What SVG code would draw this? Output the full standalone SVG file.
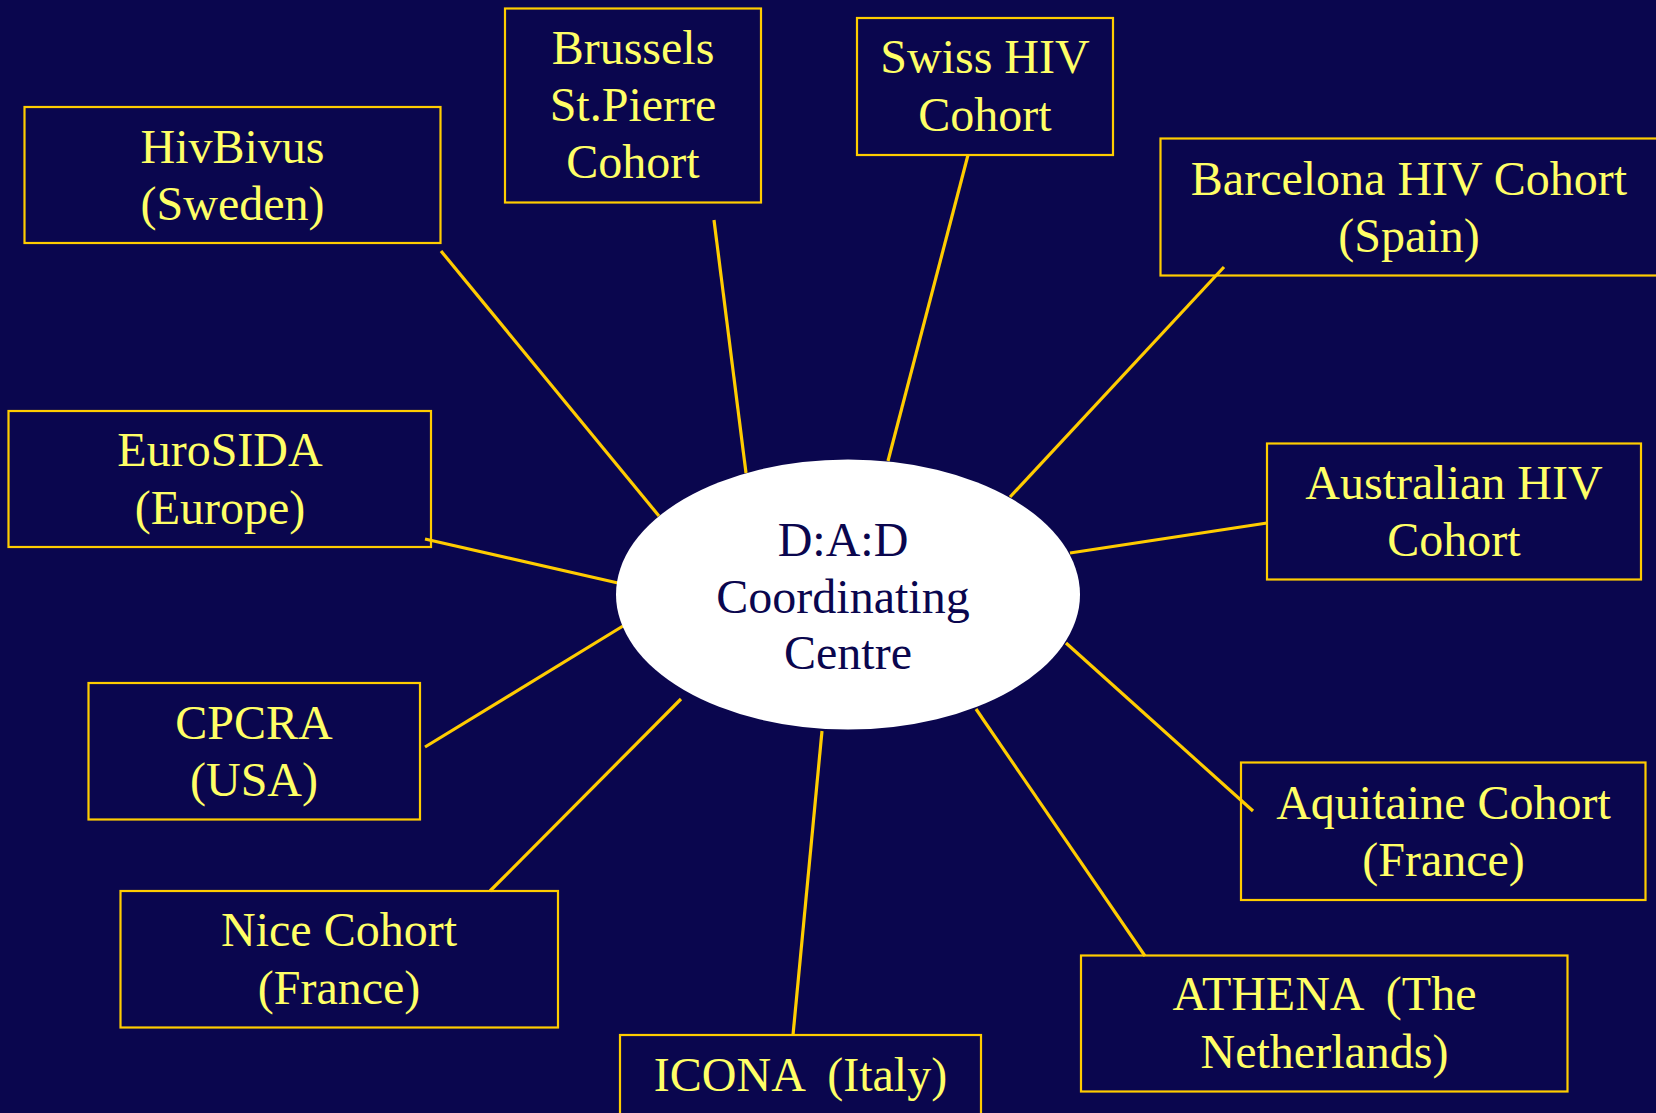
<svg xmlns="http://www.w3.org/2000/svg" width="1656" height="1113" viewBox="0 0 1656 1113">
<style>
.bg{fill:#0A064E}
.box{fill:#0A064E;stroke:#FFCC00;stroke-width:2.2}
.t{font-family:"Liberation Serif","Times New Roman",serif;font-size:48px;fill:#FFFF66;text-anchor:middle;white-space:pre}
.ct{font-family:"Liberation Serif","Times New Roman",serif;font-size:48px;fill:#0A064E;text-anchor:middle}
.ln{stroke:#FFCC00;stroke-width:3.2;fill:none}
</style>
<rect class="bg" x="0" y="0" width="1656" height="1113"/>
<g id="hivbivus">
<rect class="box" x="24.5" y="107" width="416" height="136"/>
<text class="t" x="232.5" y="163">HivBivus</text>
<text class="t" x="232.5" y="219.5">(Sweden)</text>
</g>
<g id="brussels">
<rect class="box" x="505" y="8.5" width="256" height="194"/>
<text class="t" x="633" y="64">Brussels</text>
<text class="t" x="633" y="121">St.Pierre</text>
<text class="t" x="633" y="178">Cohort</text>
</g>
<g id="swiss">
<rect class="box" x="857" y="18" width="256" height="137"/>
<text class="t" x="985" y="73">Swiss HIV</text>
<text class="t" x="985" y="130.5">Cohort</text>
</g>
<g id="barcelona">
<rect class="box" x="1160.5" y="138.5" width="510" height="137"/>
<text class="t" x="1409" y="194.5">Barcelona HIV Cohort</text>
<text class="t" x="1409" y="251.5">(Spain)</text>
</g>
<g id="eurosida">
<rect class="box" x="8.5" y="411" width="422.5" height="136"/>
<text class="t" x="220" y="466">EuroSIDA</text>
<text class="t" x="220" y="523.5">(Europe)</text>
</g>
<g id="australian">
<rect class="box" x="1267" y="443.5" width="374" height="136"/>
<text class="t" x="1454" y="498.5">Australian HIV</text>
<text class="t" x="1454" y="556">Cohort</text>
</g>
<g id="cpcra">
<rect class="box" x="88.5" y="683" width="331.5" height="136.5"/>
<text class="t" x="254" y="738.5">CPCRA</text>
<text class="t" x="254" y="796">(USA)</text>
</g>
<g id="aquitaine">
<rect class="box" x="1241" y="762.5" width="404.5" height="137.5"/>
<text class="t" x="1443.5" y="818.5">Aquitaine Cohort</text>
<text class="t" x="1443.5" y="875.5">(France)</text>
</g>
<g id="nice">
<rect class="box" x="120.5" y="891" width="437.5" height="136.5"/>
<text class="t" x="339" y="946">Nice Cohort</text>
<text class="t" x="339" y="1004">(France)</text>
</g>
<g id="athena">
<rect class="box" x="1081" y="955.5" width="486.5" height="136"/>
<text class="t" x="1324.5" y="1010">ATHENA  (The</text>
<text class="t" x="1324.5" y="1068">Netherlands)</text>
</g>
<g id="icona">
<rect class="box" x="620" y="1035" width="361" height="100"/>
<text class="t" x="800.5" y="1091">ICONA  (Italy)</text>
</g>
<g id="connectors">
<line class="ln" x1="441" y1="251" x2="659" y2="516"/>
<line class="ln" x1="714" y1="220" x2="746" y2="473"/>
<line class="ln" x1="968" y1="155" x2="888" y2="461"/>
<line class="ln" x1="1224" y1="267" x2="1010" y2="497"/>
<line class="ln" x1="1267" y1="523" x2="1070" y2="553"/>
<line class="ln" x1="425" y1="539" x2="618" y2="583"/>
<line class="ln" x1="425" y1="747" x2="623" y2="626"/>
<line class="ln" x1="490" y1="891" x2="681" y2="699"/>
<line class="ln" x1="822" y1="731" x2="793" y2="1035"/>
<line class="ln" x1="976" y1="709" x2="1145" y2="956"/>
<line class="ln" x1="1066" y1="643" x2="1253" y2="811"/>
</g>
<g id="centre">
<ellipse cx="848" cy="594.5" rx="232" ry="135" fill="#FFFFFF"/>
<text class="ct" x="843" y="556">D:A:D</text>
<text class="ct" x="843" y="612.5">Coordinating</text>
<text class="ct" x="848" y="669">Centre</text>
</g>
</svg>
